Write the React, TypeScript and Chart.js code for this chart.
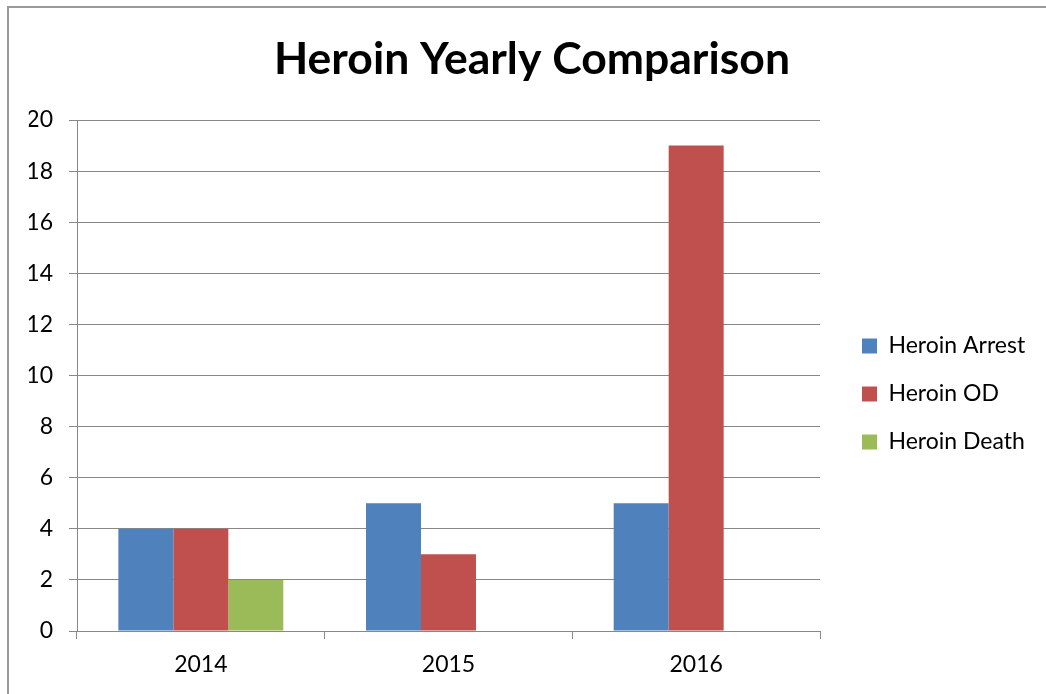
import { useEffect, useRef } from 'react';
import { Chart, registerables } from 'chart.js';

Chart.register(...registerables);

const chartTitle = 'Heroin Yearly Comparison';
const categories = ['2014', '2015', '2016'];
const seriesNames = ['Heroin Arrest', 'Heroin OD', 'Heroin Death'];
const heroinArrest = [4, 5, 5];
const heroinOD = [4, 3, 19];
const heroinDeath = [2, 0, 0];
const seriesColors = ['#4F81BD', '#C0504D', '#9BBB59'];
const yMin = 0;
const yMax = 20;
const yStep = 2;

const GRID = '#888888';
const FONT = 'Lato';

export default function App() {
  const ref = useRef<HTMLCanvasElement | null>(null);

  useEffect(() => {
    if (!ref.current) return;
    const layout = { padLeft: 18, padRight: 0 };
    const chart = new Chart(ref.current, {
      type: 'bar',
      data: {
        labels: categories,
        datasets: [
          { label: seriesNames[0], data: heroinArrest, backgroundColor: seriesColors[0], borderWidth: 0 },
          { label: seriesNames[1], data: heroinOD, backgroundColor: seriesColors[1], borderWidth: 0 },
          { label: seriesNames[2], data: heroinDeath, backgroundColor: seriesColors[2], borderWidth: 0 },
        ],
      },
      options: {
        responsive: false,
        animation: false,
        devicePixelRatio: 1,
        layout: { padding: { left: 18, top: 0, right: 0, bottom: 0 } },
        datasets: { bar: { categoryPercentage: 0.666, barPercentage: 1 } },
        plugins: {
          tooltip: { enabled: false },
          title: {
            display: true,
            text: chartTitle,
            color: '#000000',
            font: { family: FONT, size: 44.5, weight: 'bold', lineHeight: 1 },
            padding: { top: 37.5, bottom: 38 },
          },
          legend: {
            display: true,
            position: 'right',
            fullSize: false,
            weight: 1000,
            title: { display: true, text: '', font: { size: 10, lineHeight: 1 }, padding: { top: 27, bottom: 0 } },
            labels: {
              boxWidth: 15,
              boxHeight: 15,
              padding: 25,
              color: '#000000',
              font: { family: FONT, size: 23 },
            },
          },
        },
        scales: {
          x: {
            position: 'bottom',
            afterFit: (s: any) => { s.height = 63; },
            grid: { display: true, offset: true, drawOnChartArea: false, drawTicks: true, tickLength: 8, color: GRID, lineWidth: 1 },
            border: { display: true, color: GRID, width: 1 },
            ticks: { color: '#000000', padding: 12, font: { family: FONT, size: 23 } },
          },
          y: {
            position: 'left',
            min: yMin,
            max: yMax,
            afterFit: (s: any) => { s.width = 77 - layout.padLeft; },
            grid: { display: true, drawOnChartArea: true, drawTicks: true, tickLength: 8, color: GRID, lineWidth: 1 },
            border: { display: true, color: GRID, width: 1 },
            ticks: { stepSize: yStep, color: '#000000', padding: 16, font: { family: FONT, size: 23 } },
          },
          gapInner: {
            type: 'linear',
            position: 'right',
            weight: 0,
            display: false,
            afterFit: (s: any) => { s.width = 17; },
          },
        },
      } as any,
    });

    // place the legend box so the plot area ends at the reference's right edge
    const legendWidth = (chart as any).legend.width;
    const padRight = 1046 - 837 - legendWidth;
    layout.padRight = padRight;
    layout.padLeft = 18 + padRight;
    (chart.options as any).layout.padding = { left: layout.padLeft, top: 0, right: padRight, bottom: 0 };
    chart.update();

    return () => chart.destroy();
  }, []);

  return (
    <div style={{ position: 'fixed', left: 0, top: 0, width: 1046, height: 694, overflow: 'hidden', background: '#ffffff' }}>
      <canvas ref={ref} width={1046} height={694} style={{ position: 'absolute', left: 0, top: 0, width: 1046, height: 694 }} />
      <div style={{ position: 'absolute', left: 7, top: 6, width: 3000, height: 3000, borderLeft: '2px solid #999999', borderTop: '2px solid #999999', pointerEvents: 'none' }} />
    </div>
  );
}
